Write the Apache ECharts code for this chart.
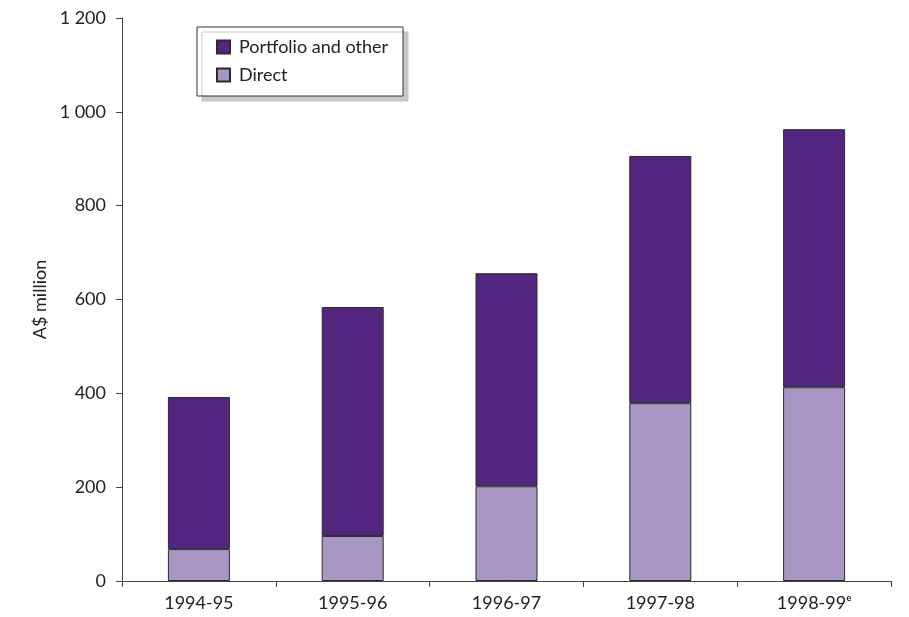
<!DOCTYPE html>
<html>
<head>
<meta charset="utf-8">
<script src="https://cdn.jsdelivr.net/npm/echarts@6/dist/echarts.min.js"></script>
<style>
  html, body { margin: 0; padding: 0; background: #fff; }
  #chart { width: 909px; height: 617px; }
</style>
</head>
<body>
<div id="chart"></div>
<script>
// Financial years on the category axis
const years = ['1994-95', '1995-96', '1996-97', '1997-98', '1998-99ᵉ'];
// A$ million, stacked: direct at the bottom, portfolio and other on top
const direct = [68, 96, 202, 379, 413];
const portfolio = [324, 488, 454, 527, 550];
const yTicks = [0, 200, 400, 600, 800, 1000, 1200];

const FONT = 'Lato, "Open Sans", sans-serif';
const chart = echarts.init(document.getElementById('chart'), null, { renderer: 'canvas' });

chart.setOption({
  animation: false,
  grid: { left: 122, right: 18, top: 18, bottom: 36 },
  legend: {
    data: ['Portfolio and other', 'Direct'],
    orient: 'vertical',
    left: 197,
    top: 27,
    padding: [11, 15, 12, 19],
    itemGap: 10,
    itemWidth: 13,
    itemHeight: 13,
    icon: 'rect',
    backgroundColor: '#fff',
    borderColor: '#333',
    borderWidth: 1,
    shadowColor: '#c8c8c8',
    shadowBlur: 0,
    shadowOffsetX: 5,
    shadowOffsetY: 5,
    textStyle: { fontFamily: FONT, fontSize: 18, color: '#222', padding: [0, 0, 0, 4] }
  },
  xAxis: {
    type: 'category',
    data: years,
    axisLine: { lineStyle: { color: '#444', width: 1 } },
    axisTick: { show: true, length: 6, lineStyle: { color: '#444' } },
    axisLabel: { fontFamily: FONT, fontSize: 18, color: '#222', margin: 13 }
  },
  yAxis: {
    type: 'value',
    min: yTicks[0],
    max: yTicks[yTicks.length - 1],
    interval: 200,
    name: 'A$ million',
    nameLocation: 'middle',
    nameGap: 66,
    nameRotate: 90,
    nameTextStyle: { fontFamily: FONT, fontSize: 18, color: '#222' },
    axisLine: { show: true, lineStyle: { color: '#444', width: 1 } },
    axisTick: { show: true, length: 6, lineStyle: { color: '#444' } },
    splitLine: { show: false },
    axisLabel: {
      fontFamily: FONT, fontSize: 18, color: '#222', margin: 16,
      formatter: v => String(v).replace(/\B(?=(\d{3})+(?!\d))/g, ' ')
    }
  },
  series: [
    {
      name: 'Direct',
      type: 'bar',
      stack: 'total',
      data: direct,
      barWidth: 62,
      itemStyle: { color: '#a896c3', borderColor: '#2a2a2a', borderWidth: 1 }
    },
    {
      name: 'Portfolio and other',
      type: 'bar',
      stack: 'total',
      data: portfolio,
      barWidth: 62,
      itemStyle: { color: '#52267f', borderColor: '#2a2a2a', borderWidth: 1 }
    }
  ]
});
</script>
</body>
</html>
